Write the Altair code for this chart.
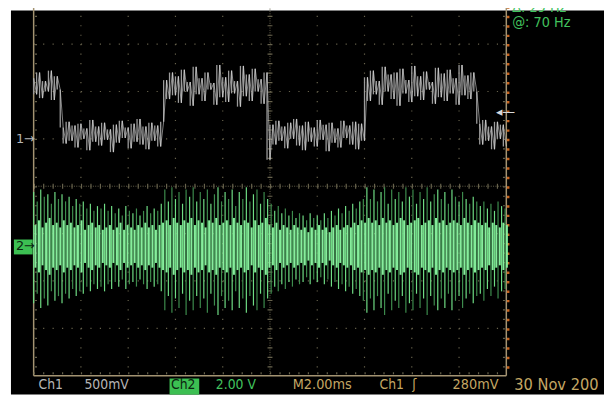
import altair as alt
import pandas as pd
import numpy as np

# Ch1 trace samples (mV), one every 0.125 ms (2 ms/div)
ch1_mv = [
    640, 470, 700, 430, 610, 500, 720, 410, 660, 520,
    120, -50, 180, -20, 140, -90, 160, 0, 110, -120,
    200, -30, 130, -70, 170, -10, 100, -140, 150, -40,
    190, 10, 120, -100, 160, -30, 210, -60, 130, -110,
    170, -20, 140, -80, 180,
    620, 420, 700, 460, 660, 380, 730, 500, 600, 350,
    760, 470, 640, 400, 700, 520, 590, 360, 780, 440,
    650, 390, 720, 480, 610, 340, 770, 450, 680, 400,
    740, 500, 630, 370, 700,
    -220, 150, -60, 190, -20, 130, -100, 170, 0, 210,
    -70, 140, -120, 180, -30, 120, -80, 200, -10, 150,
    -130, 170, -40, 110, -90, 190, 10, 140, -60, 180,
    -110, 160, -20,
    650, 400, 720, 470, 610, 360, 760, 500, 680, 420,
    700, 350, 740, 480, 620, 390, 770, 450, 660, 410,
    710, 520, 600, 370, 750, 440, 690, 400, 730, 480,
    640, 360, 780, 460, 670, 420, 700, 500,
    160, -60, 200, -20, 130, -110, 180, 0, 150, -80,
]

# Ch2 envelope per display column (V), one column every 0.15 ms
ch2_top = [
    2.3, 1.9, 2.4, 2.1, 2.2, 1.8, 2.3, 2.0,
    2.2, 1.9, 2.1, 1.7, 2.0, 1.8, 1.9, 1.6, 1.8, 1.5, 1.7, 1.6, 1.8,
    1.5, 1.7, 1.4, 1.6, 1.3, 1.7, 1.5, 1.4, 1.6, 1.3, 1.5, 1.7, 1.4, 1.6, 1.5, 1.8,
    2.4, 1.9, 2.5, 2.0, 2.3, 1.8, 2.4, 2.1, 2.5, 1.9, 2.3, 2.0, 2.4, 1.8, 2.2,
    2.5, 1.9, 2.3, 2.0, 2.4, 1.7, 2.3, 2.0, 2.5, 1.9, 2.2, 2.4, 1.8, 2.3, 2.0,
    1.8, 1.5, 1.7, 1.4, 1.6, 1.3, 1.5, 1.2, 1.4, 1.3, 1.1, 1.4, 1.2, 1.3, 1.1,
    1.4, 1.2, 1.5, 1.3, 1.6, 1.4, 1.7, 1.5, 1.8, 1.6, 1.9, 2.0,
    2.5, 2.0, 2.4, 1.9, 2.3, 2.5, 1.8, 2.4, 2.0, 2.3, 1.9, 2.5, 2.1, 2.4, 1.8,
    2.3, 2.0, 2.5, 1.9, 2.2, 2.4, 2.0, 2.3, 1.8, 2.4, 2.1, 1.9, 2.3, 2.0, 1.8,
    2.1, 1.9,
    1.7, 1.9, 1.6, 1.8, 1.5, 1.9, 1.7, 1.6,
]
ch2_bot = [
    -2.4, -2.0, -2.6, -2.2, -2.5, -1.9, -2.3, -2.1,
    -2.4, -2.0, -2.2, -1.8, -2.1, -1.9, -2.0, -1.7, -1.9, -1.6, -1.8, -1.7, -1.9,
    -1.6, -1.8, -1.5, -1.7, -1.4, -1.8, -1.6, -1.5, -1.7, -1.4, -1.6, -1.8, -1.5,
    -1.7, -1.6, -1.9,
    -2.7, -2.1, -2.8, -2.2, -2.6, -2.0, -2.9, -2.3, -2.7, -2.1, -2.6, -2.2, -2.8,
    -2.0, -2.5, -2.9, -2.1, -2.6, -2.3, -2.7, -1.9, -2.6, -2.2, -2.8, -2.1, -2.5,
    -2.7, -2.0, -2.6, -2.2,
    -2.0, -1.7, -1.9, -1.6, -1.8, -1.5, -1.7, -1.4, -1.6, -1.5, -1.3, -1.6, -1.4,
    -1.5, -1.3, -1.6, -1.4, -1.7, -1.5, -1.8, -1.6, -1.9, -1.7, -2.0, -1.8, -2.1,
    -2.3,
    -2.8, -2.2, -2.7, -2.1, -2.6, -2.9, -2.0, -2.7, -2.3, -2.6, -2.1, -2.8, -2.4,
    -2.7, -2.0, -2.6, -2.2, -2.9, -2.1, -2.5, -2.7, -2.2, -2.6, -2.0, -2.7, -2.3,
    -2.1, -2.6, -2.2, -2.0, -2.4, -2.1,
    -2.0, -2.3, -1.8, -2.1, -1.7, -2.2, -1.9, -1.8,
]
# Ch2 bright core half-height (V), between the columns
ch2_core = [
    0.9, 1.1, 0.8, 1.0, 1.2, 0.9, 1.0, 0.8, 1.1, 0.9,
    1.0, 0.8, 0.9, 1.1, 0.7, 0.9, 1.0, 0.8, 0.9, 0.7,
    0.8, 0.9, 0.7, 0.8, 1.0, 0.7, 0.9, 0.8, 0.7, 0.9,
    0.8, 1.0, 0.8, 0.9, 0.7, 0.9, 1.0, 1.1, 0.9, 1.2,
    1.0, 0.9, 1.1, 1.0, 1.2, 0.9, 1.1, 1.0, 0.8, 1.1,
    1.0, 1.2, 0.9, 1.0, 1.1, 0.9, 1.2, 1.0, 0.9, 1.1,
    1.0, 0.8, 1.1, 0.9, 1.0, 1.2, 0.9, 0.8, 1.0, 0.7,
    0.9, 0.8, 0.7, 0.9, 0.8, 0.7, 0.8, 0.6, 0.8, 0.7,
    0.9, 0.7, 0.8, 0.6, 0.8, 0.9, 0.7, 0.8, 0.9, 0.8,
    1.0, 0.9, 1.1, 1.0, 1.2, 1.0, 1.1, 0.9, 1.2, 1.0,
    1.1, 0.9, 1.0, 1.2, 1.1, 0.9, 1.0, 1.1, 1.2, 0.9,
    1.0, 1.1, 0.9, 1.2, 1.0, 1.1, 0.9, 1.0, 1.1, 1.0,
    0.9, 1.2, 1.0, 0.9, 1.1, 1.0, 0.9, 1.0, 0.8, 1.0,
    0.9, 0.8, 1.0, 0.9,
]

# readouts
bottom_labels = ["Ch1", "500mV", "Ch2", "2.00 V", "M2.00ms", "Ch1", "ʃ", "280mV"]
date_label = "30 Nov 200"
meas_labels = ["Δ: 29 Hz", "@: 70 Hz"]

# ---------------- scope settings ----------------
MS_PER_DIV = 2.0
CH1_MV_PER_DIV = 500.0
CH2_V_PER_DIV = 2.0
CH1_GND = 1.0      # divisions from centre
CH2_GND = -1.27
CH1_STEP_MS = 0.125
CH2_STEP_MS = 0.15
TRIG_MV = 280

ch1 = pd.DataFrame({"v": ch1_mv})
ch1["x"] = np.arange(len(ch1)) * CH1_STEP_MS / MS_PER_DIV
ch1["y"] = CH1_GND + ch1["v"] / CH1_MV_PER_DIV
ch1["ynext"] = ch1["y"].shift(-1)
ch1_seg = ch1.dropna()

ch2 = pd.DataFrame({"top": ch2_top, "bot": ch2_bot, "core": ch2_core})
ch2["x"] = np.arange(len(ch2)) * CH2_STEP_MS / MS_PER_DIV
ch2["y"] = CH2_GND + ch2["top"] / CH2_V_PER_DIV
ch2["y2"] = CH2_GND + ch2["bot"] / CH2_V_PER_DIV
ch2["shade"] = np.where(np.arange(len(ch2)) % 2 == 0, "#6fdc84", "#3d8c4d")
ch2["xc"] = ch2["x"] + CH2_STEP_MS / MS_PER_DIV / 2
ch2["yc"] = CH2_GND + ch2["core"] / CH2_V_PER_DIV
ch2["yc2"] = CH2_GND - ch2["core"] / CH2_V_PER_DIV

# ---------------- scales ----------------
XS = alt.Scale(domain=[-0.4802, 12.0668], nice=False, zero=False)
YS = alt.Scale(domain=[-4.3958, 3.7083], nice=False, zero=False)


def xe(f):
    return alt.X(f, type="quantitative", scale=XS, axis=None)


def ye(f):
    return alt.Y(f, type="quantitative", scale=YS, axis=None)


GRID = "#67624c"
BORDER = "#a39372"
TAN = "#c4a764"
GRAY = "#b6b6b6"
GREEN = "#42c25e"

vgrid = pd.DataFrame({"x": [1, 2, 3, 4, 6, 7, 8, 9], "y": 4.0, "y2": -4.0})
hgrid = pd.DataFrame({"y": [-3, -2, -1, 1, 2, 3], "x": 0.0, "x2": 10.0})

layers = []
layers.append(alt.Chart(vgrid).mark_rule(color=GRID, strokeWidth=1.2, strokeDash=[1.2, 8.4]).encode(
    x=xe("x"), y=ye("y"), y2="y2"))
layers.append(alt.Chart(hgrid).mark_rule(color=GRID, strokeWidth=1.2, strokeDash=[1.2, 8.38]).encode(
    x=xe("x"), x2="x2", y=ye("y")))

cv = pd.DataFrame({"x": [5.0], "y": [4.0], "y2": [-4.0]})
ch = pd.DataFrame({"y": [0.0], "x": [0.0], "x2": [10.0]})
layers.append(alt.Chart(cv).mark_rule(color=GRID, strokeWidth=1, strokeDash=[1, 1.4]).encode(
    x=xe("x"), y=ye("y"), y2="y2"))
layers.append(alt.Chart(cv).mark_rule(color=GRID, strokeWidth=5, strokeDash=[1.2, 8.4]).encode(
    x=xe("x"), y=ye("y"), y2="y2"))
layers.append(alt.Chart(ch).mark_rule(color=GRID, strokeWidth=1, strokeDash=[1, 1.4]).encode(
    x=xe("x"), x2="x2", y=ye("y")))
layers.append(alt.Chart(ch).mark_rule(color=GRID, strokeWidth=5, strokeDash=[1.2, 8.38]).encode(
    x=xe("x"), x2="x2", y=ye("y")))

# border
bv = pd.DataFrame({"x": [0.0, 10.0], "y": 4.0, "y2": -4.0})
bh = pd.DataFrame({"y": [-4.0], "x": [0.0], "x2": [10.0]})
layers.append(alt.Chart(bv).mark_rule(color=BORDER, strokeWidth=1.5).encode(
    x=xe("x"), y=ye("y"), y2="y2"))
layers.append(alt.Chart(bh).mark_rule(color=BORDER, strokeWidth=1.5).encode(
    x=xe("x"), x2="x2", y=ye("y")))
bt = pd.DataFrame({"x": [0.05, 9.95], "y": 4.0, "y2": -4.0})
layers.append(alt.Chart(bt).mark_rule(color=GRID, strokeWidth=2, strokeDash=[1.2, 8.4]).encode(
    x=xe("x"), y=ye("y"), y2="y2"))
btb = pd.DataFrame({"y": [-3.95], "x": [0.0], "x2": [10.0]})
layers.append(alt.Chart(btb).mark_rule(color=GRID, strokeWidth=2, strokeDash=[1.2, 8.38]).encode(
    x=xe("x"), x2="x2", y=ye("y")))
bo = pd.DataFrame({"x": [10.04], "y": [4.0], "y2": [-4.0]})
layers.append(alt.Chart(bo).mark_rule(color="#c8641e", strokeWidth=2.5, strokeDash=[2.5, 7.1]).encode(
    x=xe("x"), y=ye("y"), y2="y2"))

# Ch2
layers.append(alt.Chart(ch2).mark_rule(strokeWidth=1.2).encode(
    x=xe("x"), y=ye("y"), y2="y2", color=alt.Color("shade:N", scale=None)))
layers.append(alt.Chart(ch2).mark_rule(strokeWidth=2, color="#86ee9c").encode(
    x=xe("xc"), y=ye("yc"), y2="yc2"))

# Ch1: vertical strokes between successive samples plus the joining trace
layers.append(alt.Chart(ch1_seg).mark_rule(strokeWidth=1.3, color="#9c9c9c").encode(
    x=xe("x"), y=ye("y"), y2="ynext"))
layers.append(alt.Chart(ch1).mark_line(strokeWidth=0.8, color="#d6d6d6", opacity=0.75,
                                       interpolate="linear").encode(
    x=xe("x"), y=ye("y")))

# boxes
boxes = pd.DataFrame({
    "x": [-0.418, 2.875], "x2": [-0.021, 3.503],
    "y": [-1.125, -4.06], "y2": [-1.44, -4.40],
})
layers.append(alt.Chart(boxes).mark_rect(color="#3cbf52").encode(
    x=xe("x"), x2="x2", y=ye("y"), y2="y2"))

FONT = "DejaVu Sans Condensed, DejaVu Sans"
labels = pd.DataFrame({
    "label": bottom_labels + [date_label] + meas_labels,
    "x": [0.104, 1.075, 2.905, 3.854, 5.482, 7.317, 8.008, 8.864, 10.167, 10.125, 10.125],
    "y": [-4.29, -4.29, -4.29, -4.29, -4.29, -4.29, -4.29, -4.29, -4.3125, 3.6875, 3.354],
    "c": [GRAY, GRAY, "#0c2410", GREEN, TAN, TAN, TAN, TAN, TAN, GREEN, GREEN],
    "s": [14, 14, 14, 14, 14.5, 14, 14, 14.5, 16.5, 14.5, 14.5],
})
layers.append(alt.Chart(labels).mark_text(align="left", baseline="alphabetic", font=FONT).encode(
    x=xe("x"), y=ye("y"), text="label:N",
    color=alt.Color("c:N", scale=None), size=alt.Size("s:Q", scale=None)))

markers = pd.DataFrame({
    "label": ["1→", "2→", "◂—"],
    "x": [-0.376, -0.376, 9.78],
    "y": [CH1_GND, CH2_GND, CH1_GND + TRIG_MV / CH1_MV_PER_DIV],
    "c": [GRAY, "#0c2410", "#d8d8d8"],
})
layers.append(alt.Chart(markers).mark_text(align="left", baseline="middle", font="DejaVu Sans", fontSize=13).encode(
    x=xe("x"), y=ye("y"), text="label:N", color=alt.Color("c:N", scale=None)))

chart = alt.layer(*layers).properties(
    width=601, height=389, background="white",
    padding={"left": 3, "top": 0, "right": 0, "bottom": 0},
    autosize=alt.AutoSizeParams(type="none"),
).configure_view(fill="#000000", strokeWidth=0)

chart.save("out.html", embed_options={"renderer": "svg", "actions": False})
